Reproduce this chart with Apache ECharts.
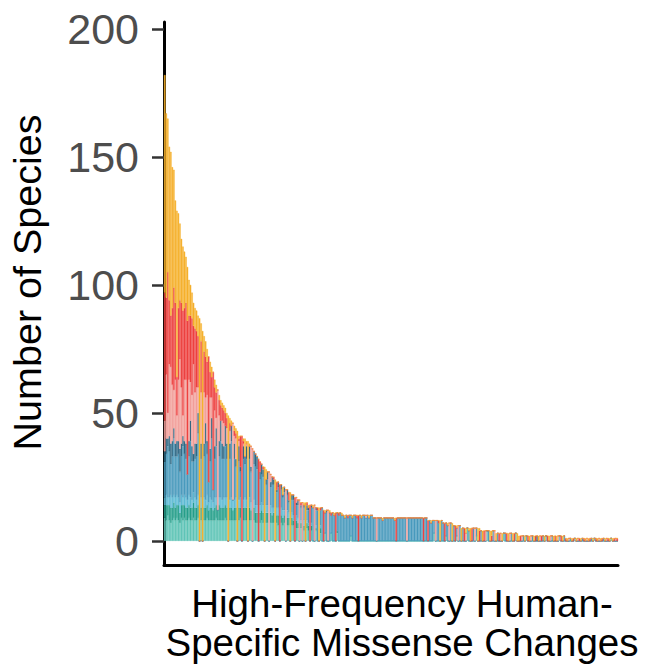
<!DOCTYPE html>
<html><head><meta charset="utf-8">
<script src="https://cdn.jsdelivr.net/npm/echarts@6/dist/echarts.min.js"></script>
<style>html,body{margin:0;padding:0;background:#fff}#c{width:646px;height:666px}</style>
</head><body><div id="c"></div>
<script>
// Stack order bottom -> top; each array = number of species of that group per missense change (bar)
const groupNames = ['Group A','Group B','Group C','Group D','Group E','Group F','Group G','Group H'];
const groupColors = ['#5FC4B7','#27A08C','#5DBBD5','#4A9BBD','#2F6985','#F2A09B','#EE4140','#F6B02C'];

const lightTeal = [
9,8,10,8,7,8,9,8,9,8, 7,9,8,9,8,8,9,8,8,9, 8,8,9,0,8,0,8,8,9,8, 8,8,8,8,9,8,8,8,8,8,
9,8,0,8,8,8,8,8,0,8, 9,0,8,8,8,0,8,8,0,8, 7,7,0,7,8,7,0,7,7,0, 7,7,7,0,7,6,0,7,6,7,
0,6,6,0,6,6,0,5,5,0, 5,0,4,0,5,4,0,4,0,0, 4,0,0,3,0,0,3,0,0,0, 3,0,0,0,3,0,0,0,0,0,
0,0,0,2,0,0,0,0,0,0, 0,0,0,0,0,0,0,0,0,0, 0,0,0,0,0,0,0,0,0,0, 0,0,0,0,0,0,0,0,0,0,
0,0,0,0,0,0,0,0,0,0, 0,0,0,0,0,0,0,0,3,0, 0,0,0,0,0,0,2,0,0,0, 0,0,0,2,0,0,0,0,0,0,
5,0,0,0,0,0,2,0,0,0, 0,0,0,4,0,0,0,0,0,0, 0,0,0,0,3,0,0,0,0,0, 0,0,3,0,0,0,0,0,0,2,
0,0,0,0,0,0,0,0,0,0, 0,0,2,0,0,0,0,0,0,0, 0,2,0,0,0,0,0,0,0,0, 0,1,0,0,0,0,0,0,0,0,
0,0,0,0,1,0,0,0,0,0, 0,0,0,0,0,1,0,0,0,0];
const darkTeal = [
5,6,4,6,6,5,6,5,5,6, 4,5,6,5,5,5,5,5,5,6, 5,5,5,0,5,0,5,5,5,4, 5,5,4,5,5,4,6,5,5,5,
5,5,0,5,5,4,5,5,0,5, 4,0,5,5,5,0,5,4,0,5, 4,4,0,4,4,4,0,4,4,0, 4,3,4,0,3,4,0,3,3,3,
0,3,3,0,3,2,0,3,2,0, 2,0,2,0,2,2,0,2,0,0, 1,0,0,2,0,0,0,0,0,0, 0,0,0,0,1,0,0,0,0,0,
0,0,0,0,0,0,0,0,0,0, 0,0,0,0,0,0,0,0,0,0, 0,0,0,0,0,0,0,0,0,0, 0,0,0,0,0,0,0,0,0,0,
0,0,0,0,0,0,0,0,0,0, 0,0,0,0,0,0,0,0,0,0, 0,0,0,0,0,0,0,0,0,0, 0,0,0,0,0,0,0,0,0,0,
0,0,0,0,0,0,0,0,0,0, 0,0,0,0,0,0,0,0,0,0, 0,0,0,0,0,0,0,0,0,0, 0,0,0,0,0,0,0,0,0,0,
0,0,0,0,0,0,0,0,0,0, 0,0,0,0,0,0,0,0,0,0, 0,0,0,0,0,0,0,0,0,0, 0,0,0,0,0,0,0,0,0,0,
0,0,0,0,0,0,0,0,0,0, 0,0,0,0,0,0,0,0,0,0];
const skyBlue = [
3,4,3,3,5,4,3,4,4,3, 4,4,3,4,4,3,4,4,3,4, 4,3,4,0,4,0,4,3,4,3, 4,3,3,4,3,0,3,4,3,4,
3,4,0,3,4,4,3,4,0,3, 4,0,3,4,3,0,4,3,0,3, 3,3,0,3,3,3,0,3,3,0, 3,3,2,0,3,3,0,3,3,2,
0,3,2,0,2,2,0,2,2,0, 1,0,2,0,1,1,0,1,0,0, 1,0,0,1,0,0,0,0,0,0, 0,0,0,0,0,0,0,0,0,0,
0,0,0,0,0,0,0,0,0,0, 0,0,0,0,0,0,0,0,0,0, 0,0,0,0,0,0,0,0,0,0, 0,0,0,0,0,0,0,0,0,0,
0,0,0,0,0,0,0,0,0,0, 0,0,0,0,0,0,0,0,0,0, 0,0,0,0,0,0,0,0,0,0, 0,0,0,0,0,0,0,0,0,0,
0,0,0,0,0,0,0,0,0,0, 0,0,0,0,0,0,0,0,0,0, 0,0,0,0,0,0,0,0,0,0, 0,0,0,0,0,0,0,0,0,0,
0,0,0,0,0,0,0,0,0,0, 0,0,0,0,0,0,0,0,0,0, 0,0,0,0,0,0,0,0,0,0, 0,0,0,0,0,0,0,0,0,0,
0,0,0,0,0,0,0,0,0,0, 0,0,0,0,0,0,0,0,0,0];
const steelBlue = [
14,16,20,18,12,16,22,16,15,17, 12,15,20,16,15,10,15,22,15,12, 15,17,24,0,15,0,16,22,16,8, 14,24,5,15,20,0,16,22,16,15,
20,15,0,16,22,0,16,12,0,15, 10,0,16,13,16,0,15,12,0,14, 15,14,0,10,11,11,0,8,10,0, 7,9,9,0,6,8,0,7,5,7,
0,6,4,0,5,6,0,4,5,0, 5,0,5,0,4,5,0,6,13,0, 6,12,0,6,13,0,8,11,0,11, 7,11,10,0,7,10,11,10,10,9,
10,9,10,8,9,10,10,9,0,10, 9,10,10,9,10,9,10,10,9,9, 0,9,9,9,8,9,9,9,9,9, 9,9,8,0,9,9,9,9,9,9,
0,9,9,9,9,9,9,9,9,9, 9,0,9,9,0,8,7,8,5,0, 8,7,0,8,7,0,5,6,0,7, 0,6,0,3,0,6,0,5,0,0,
0,4,0,0,5,0,3,0,0,4, 0,0,0,0,4,0,0,4,0,0, 3,0,0,0,0,3,0,0,0,3, 0,0,0,0,0,0,0,2,0,0,
0,0,0,2,0,0,0,0,0,0, 2,0,0,0,0,0,2,0,0,0, 0,0,0,0,2,0,0,0,1,0, 0,0,0,0,0,0,1,0,0,0,
0,0,1,0,0,0,0,0,0,0, 1,0,0,0,0,0,0,0,0,0];
const slate = [
4,6,3,6,8,6,4,5,6,5, 9,5,4,5,6,0,6,8,6,3, 6,5,8,0,6,0,5,8,5,0, 5,8,0,5,7,0,6,8,6,5,
8,6,0,6,6,0,6,3,0,6, 2,0,5,3,5,0,5,2,0,5, 5,5,0,3,4,3,0,2,3,0, 2,3,2,0,1,2,0,2,1,2,
0,2,1,0,2,2,0,1,2,0, 1,0,1,0,2,1,0,1,0,0, 1,0,0,0,0,0,0,1,0,0, 0,0,0,0,0,0,0,0,0,0,
0,0,0,0,0,0,0,0,0,0, 0,0,0,0,0,0,0,0,0,0, 0,0,0,0,0,0,0,0,0,0, 0,0,0,0,0,0,0,0,0,0,
0,0,0,0,0,0,0,0,0,0, 0,0,0,0,0,0,0,0,0,0, 0,0,0,0,0,0,0,0,0,0, 0,0,0,0,0,0,0,0,0,0,
0,0,0,0,0,0,0,0,0,0, 0,0,0,0,0,0,0,0,0,0, 0,0,0,0,0,0,0,0,0,0, 0,0,0,0,0,0,0,0,0,0,
0,0,0,0,0,0,2,0,0,0, 0,0,0,0,0,0,0,0,0,0, 0,0,0,0,0,0,0,0,0,0, 0,0,0,0,0,0,0,0,0,0,
0,0,0,0,0,0,0,0,0,0, 0,0,0,0,0,0,0,0,0,0];
const pink = [
12,25,10,28,30,22,15,25,10,24, 35,22,8,24,25,0,24,15,20,35, 20,22,10,0,20,0,20,10,18,0, 20,8,0,14,4,47,10,0,9,9,
0,6,0,5,0,30,3,8,0,2, 0,0,1,0,1,0,0,8,36,0, 0,0,0,0,0,0,0,0,0,27, 3,0,0,0,0,0,0,0,0,0,
20,0,0,0,0,0,0,2,0,16, 0,15,0,0,0,0,0,0,0,14, 0,0,0,0,0,0,0,0,12,0, 0,0,0,0,0,0,0,0,0,0,
0,0,0,0,0,0,0,0,0,0, 0,0,0,1,0,0,0,0,0,0, 9,0,0,0,0,0,0,0,0,0, 0,0,0,0,0,0,0,0,0,0,
9,0,0,0,0,0,0,0,0,0, 0,0,0,0,0,0,0,0,0,8, 0,0,0,0,0,0,0,0,7,0, 0,0,0,0,6,0,0,0,0,3,
0,0,0,0,0,5,0,0,0,0, 0,0,4,0,0,0,0,0,4,0, 0,0,3,0,0,0,0,0,3,0, 0,0,0,0,0,0,2,0,0,0,
0,0,2,0,0,0,0,0,2,0, 0,0,0,0,0,2,0,0,0,0, 2,0,0,0,0,0,0,1,0,0, 0,0,0,1,0,0,0,0,0,1,
0,0,0,0,0,0,0,1,0,0, 0,0,1,0,0,0,0,0,1,0];
const red = [
50,30,55,25,20,30,40,30,15,28, 23,33,41,28,30,60,25,26,30,15, 25,22,20,0,20,0,16,16,13,49, 10,8,46,9,10,0,6,6,5,5,
5,4,0,3,0,0,2,2,0,1, 12,41,1,0,0,0,0,0,0,0, 0,0,32,4,0,1,0,0,0,0, 0,0,1,0,3,0,22,0,0,0,
0,0,3,0,0,0,17,0,0,0, 1,0,0,0,1,0,14,0,0,0, 0,1,0,1,0,12,0,0,0,0, 1,0,0,11,0,1,0,0,0,0,
0,1,0,0,0,0,0,1,10,0, 0,0,0,0,0,0,0,0,0,0, 0,0,0,0,0,0,0,0,0,0, 0,0,0,9,0,0,0,0,0,0,
0,0,0,0,0,0,0,0,0,0, 0,9,0,0,8,0,0,0,0,0, 0,1,0,0,0,7,0,0,0,0, 0,0,6,0,0,0,0,0,5,0,
0,0,0,5,0,0,0,0,4,0, 0,4,0,0,0,0,2,0,0,0, 0,3,0,0,0,0,3,0,0,0, 0,3,0,0,0,2,0,0,0,0,
2,0,0,0,0,2,0,0,0,2, 0,0,0,2,0,0,0,0,2,0, 0,0,2,0,0,1,0,0,0,0, 1,0,0,0,1,0,0,1,0,0,
0,1,0,0,0,1,0,0,0,1, 0,0,0,1,0,0,0,1,0,1];
const orange = [
85,72,60,60,64,55,46,40,65,37, 30,25,25,22,18,21,14,12,10,9, 8,8,8,87,7,82,6,6,5,0, 4,4,0,3,3,0,2,2,2,2,
2,2,49,2,2,0,2,2,43,1, 0,0,1,7,1,39,1,0,0,0, 0,0,0,0,0,0,29,4,0,0, 0,0,0,24,0,0,0,0,3,0,
0,0,0,19,0,0,0,0,0,0, 0,0,1,15,0,1,0,0,1,0, 0,0,13,0,0,0,1,0,0,1, 0,0,1,0,0,0,0,1,0,1,
0,0,0,0,1,0,0,0,0,0, 1,0,0,0,0,1,0,0,0,0, 0,0,0,0,1,0,0,0,0,0, 0,0,1,0,0,0,0,0,0,0,
0,0,0,0,0,0,0,0,0,0, 0,0,0,0,0,0,1,0,0,0, 0,0,8,0,0,0,0,1,0,0, 7,0,0,1,0,0,5,0,0,2,
0,1,5,0,0,0,0,5,1,0, 4,0,0,0,0,4,2,0,0,3, 0,0,0,3,0,0,0,3,0,0, 3,0,0,3,2,0,0,0,2,0,
0,2,0,0,2,0,0,2,0,0, 0,2,0,0,2,0,0,2,0,2, 0,0,0,2,0,0,1,0,0,1, 0,0,1,0,0,1,0,0,1,0,
1,0,0,1,0,0,1,0,1,0, 0,1,0,0,1,0,1,0,0,0];

const yTicks = [0, 50, 100, 150, 200];
const seriesValues = [lightTeal, darkTeal, skyBlue, steelBlue, slate, pink, red, orange];
const changes = lightTeal.map((_, i) => 'Change ' + (i + 1));

const FONT = '"Liberation Sans", Arial, Helvetica, sans-serif';
const chart = echarts.init(document.getElementById('c'), null, {renderer: 'svg', width: 646, height: 666});
chart.setOption({
  animation: false,
  backgroundColor: '#ffffff',
  grid: {left: 164, right: 28, top: 22, bottom: 101, containLabel: false, outerBoundsMode: 'none'},
  xAxis: {
    type: 'category', data: changes, boundaryGap: true,
    axisLine: {show: true, onZero: false, lineStyle: {color: '#000', width: 3}},
    axisTick: {show: false}, axisLabel: {show: false}, splitLine: {show: false},
    name: 'High-Frequency Human-\nSpecific Missense Changes',
    nameLocation: 'middle', nameGap: 19,
    nameTextStyle: {fontSize: 38.5, lineHeight: 39, color: '#000', fontFamily: FONT, padding: [0, 0, 0, 22]}
  },
  yAxis: {
    type: 'value', min: -9.4, max: 202.7,
    axisLine: {show: true, lineStyle: {color: '#000', width: 3}},
    axisTick: {show: true, length: 12, customValues: yTicks, lineStyle: {color: '#333', width: 2.5}},
    axisLabel: {show: true, customValues: yTicks, margin: 25, fontSize: 43, color: '#4D4D4D', fontFamily: FONT},
    splitLine: {show: false},
    name: 'Number of Species', nameLocation: 'middle', nameGap: 117,
    nameTextStyle: {fontSize: 39.5, color: '#000', fontFamily: FONT, padding: [0, 0, 0, 22]}
  },
  series: seriesValues.map((vals, k) => ({
    name: groupNames[k], type: 'bar', stack: 'species', data: vals,
    barCategoryGap: '0%', barGap: '0%',
    itemStyle: {color: groupColors[k], borderColor: groupColors[k], borderWidth: 0.4},
    emphasis: {disabled: true}
  }))
});
</script>
</body></html>
